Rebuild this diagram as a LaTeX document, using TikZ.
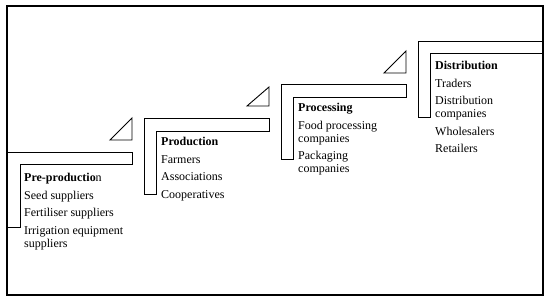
\documentclass[tikz,border=0pt]{standalone}
\usepackage{fontspec}
\setmainfont{Liberation Serif}
\begin{document}
\begin{tikzpicture}[x=1pt,y=-1pt,
  stepline/.style={draw=black,line width=0.9pt,line join=miter},
  frameline/.style={draw=black,line width=1.5pt},
  stagetext/.style={anchor=north west,inner sep=0pt,align=left,font=\fontsize{12}{13}\selectfont}]
\useasboundingbox (0,0) rectangle (550,303);
\draw[frameline] (7,6) rectangle (543,295);
% steps
\draw[stepline] (7,152) -- (132,152) -- (132,164) -- (20,164) -- (20,227) -- (7,227);
\draw[stepline] (144,118) -- (269,118) -- (269,131) -- (156,131) -- (156,194) -- (144,194) -- cycle;
\draw[stepline] (281,84) -- (406,84) -- (406,97) -- (293,97) -- (293,159) -- (281,159) -- cycle;
\draw[stepline] (543,41) -- (418,41) -- (418,117) -- (430,117) -- (430,53) -- (543,53);
% triangles
\draw[stepline] (132,118) -- (110,140) -- (132,140) -- cycle;
\draw[stepline] (269,87) -- (247,106) -- (269,106) -- cycle;
\draw[stepline] (406,51) -- (384,73) -- (406,73) -- cycle;
% texts
\node[stagetext] (pre) at (24,173) {\textbf{Pre-productio}n\\[4.5pt]Seed suppliers\\[4.5pt]Fertiliser suppliers\\[4.5pt]Irrigation equipment\\suppliers};
\node[stagetext] (prod) at (161,137) {\textbf{Production}\\[4.5pt]Farmers\\[4.5pt]Associations\\[4.5pt]Cooperatives};
\node[stagetext] (proc) at (298,103) {\textbf{Processing}\\[4.5pt]Food processing\\companies\\[4.5pt]Packaging\\companies};
\node[stagetext] (dist) at (435,61) {\textbf{Distribution}\\[4.5pt]Traders\\[4.5pt]Distribution\\companies\\[4.5pt]Wholesalers\\[4.5pt]Retailers};
\end{tikzpicture}
\end{document}
